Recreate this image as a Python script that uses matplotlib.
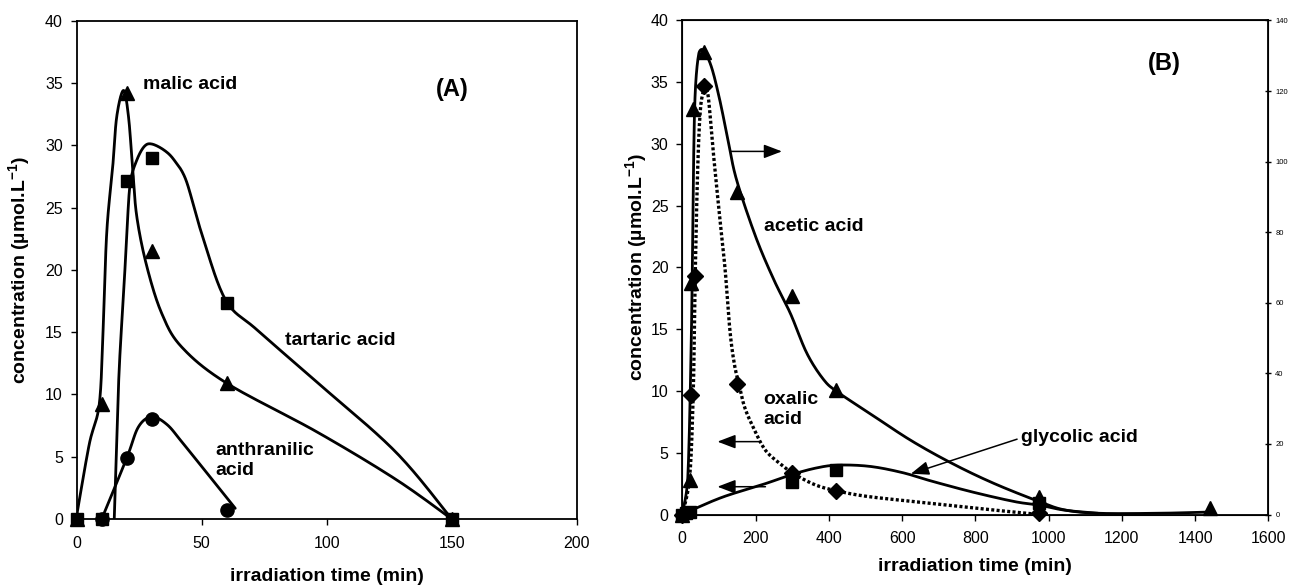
import numpy as np
import matplotlib
matplotlib.use('Agg')
import matplotlib.pyplot as plt
from matplotlib.patches import ArrowStyle

plt.rcParams['font.family'] = ['Liberation Sans', 'DejaVu Sans']
plt.rcParams['mathtext.fontset'] = 'custom'
plt.rcParams['mathtext.rm'] = 'Liberation Sans'
plt.rcParams['mathtext.bf'] = 'Liberation Sans:bold'

# ================= Panel A (measured points) =================
malic_t = [0, 10, 20, 30, 60, 150]
malic_c = [0, 9.2, 34.2, 21.5, 10.9, 0]
tartaric_t = [0, 10, 20, 30, 60, 150]
tartaric_c = [0, 0, 27.1, 29.0, 17.3, 0]
anthranilic_t = [10, 20, 30, 60]
anthranilic_c = [0, 4.9, 8.0, 0.7]

# Panel A fitted curves
malic_fit_t = [0, 5, 9, 10.5, 12, 14.4, 16, 18.7, 20.7, 22.3, 24, 28, 34, 42, 60, 96, 127.5, 150]
malic_fit_c = [0.3, 6, 9.2, 15, 23, 28.3, 32.3, 34.4, 32.3, 28.3, 24.3, 20.3, 16.5, 13.8, 10.9, 7.0, 3.2, 0]
tartaric_fit_t = [15, 16.8, 19, 20.3, 21.5, 24, 27, 30, 35, 39, 43.7, 50, 59.5, 72, 96, 127.5, 150]
tartaric_fit_c = [0, 11.2, 19, 24, 27.1, 28.8, 29.9, 30.1, 29.6, 28.8, 27.2, 22.9, 17.6, 15.2, 11.0, 5.4, 0]
anthranilic_fit_t = [10.4, 20, 24.7, 30, 36, 42, 63.4]
anthranilic_fit_c = [0.2, 4.9, 7.4, 8.2, 7.6, 6.2, 0.86]

xticks_A = [0, 50, 100, 150, 200]
yticks = [0, 5, 10, 15, 20, 25, 30, 35, 40]

# ================= Panel B (measured points) =================
acetic_t = [0, 20, 25, 30, 60, 150, 300, 420, 975, 1440]
acetic_c = [0, 9.8, 65.5, 114.8, 131, 91.4, 62, 35.4, 4.9, 1.8]      # right axis
oxalic_t = [0, 25, 35, 60, 150, 300, 420, 975]
oxalic_c = [0, 9.7, 19.3, 34.7, 10.6, 3.4, 1.9, 0.1]
glycolic_t = [0, 10, 20, 300, 420, 975]
glycolic_c = [0, 0.1, 0.2, 2.65, 3.6, 0.9]

# Panel B fitted curves
acetic_fit_t = [0, 15, 25, 30, 35, 45, 57, 79, 102, 125, 148, 200, 250, 295, 340, 386, 424,
                511, 624, 738, 851, 976, 1044, 1135, 1300, 1440]
acetic_fit_c = [0, 10.5, 52.5, 94.5, 119, 130.6, 131.6, 127, 117.6, 106, 94.9, 78.8, 66.5, 57,
                45.7, 38.2, 34.7, 28.7, 21, 14.4, 8.8, 3.6, 1.3, 0.35, 0.35, 0.7]   # right axis
oxalic_fit_t = [0, 20, 30, 35, 42, 50, 62, 71, 85, 103, 117, 130, 142, 155, 170, 193, 227,
                272, 304, 363, 424, 511, 681, 851, 975]
oxalic_fit_c = [0, 3, 10, 19, 28, 33, 34.6, 33.8, 29.2, 23.8, 19.8, 14.9, 12.2, 10.5, 8.7, 7.1,
                5.2, 4.0, 3.3, 2.4, 1.9, 1.44, 0.9, 0.36, 0]
glycolic_fit_t = [0, 25, 113, 227, 295, 363, 424, 511, 600, 681, 795, 908, 976, 1044, 1135]
glycolic_fit_c = [0, 0.35, 1.44, 2.5, 3.2, 3.75, 4.0, 3.9, 3.4, 2.7, 1.8, 1.04, 0.75, 0.35, 0.1]

xticks_B = [0, 200, 400, 600, 800, 1000, 1200, 1400, 1600]
yticks_right = [0, 20, 40, 60, 80, 100, 120, 140]

fig = plt.figure(figsize=(12.92, 5.87), dpi=100)
axA = fig.add_axes([0.0594, 0.1158, 0.387, 0.849])
axB = fig.add_axes([0.5281, 0.1235, 0.4536, 0.8416])
axB2 = axB.twinx()


def smooth(ax, x, y, n=20):
    """Catmull-Rom smoothing of a polyline, computed in display space."""
    x0, x1 = ax.get_xlim()
    y0, y1 = ax.get_ylim()
    bb = ax.get_position()
    W = bb.width * fig.get_figwidth()
    H = bb.height * fig.get_figheight()
    X = (np.asarray(x, float) - x0) / (x1 - x0) * W
    Y = (np.asarray(y, float) - y0) / (y1 - y0) * H
    P = np.column_stack([X, Y])
    Pe = np.vstack([P[0], P, P[-1]])
    t = np.linspace(0, 1, n)[1:, None]
    out = [P[:1]]
    for i in range(len(P) - 1):
        p0, p1, p2, p3 = Pe[i], Pe[i + 1], Pe[i + 2], Pe[i + 3]
        L = np.hypot(*(p2 - p1))
        h1 = (p2 - p0) / 6.0
        h2 = (p3 - p1) / 6.0
        n1, n2 = np.hypot(*h1), np.hypot(*h2)
        if n1 > L / 2 and n1 > 0:
            h1 = h1 * (L / 2) / n1
        if n2 > L / 2 and n2 > 0:
            h2 = h2 * (L / 2) / n2
        c1 = p1 + h1
        c2 = p2 - h2
        seg = (1 - t) ** 3 * p1 + 3 * (1 - t) ** 2 * t * c1 + 3 * (1 - t) * t ** 2 * c2 + t ** 3 * p2
        out.append(seg)
    Q = np.vstack(out)
    return Q[:, 0] / W * (x1 - x0) + x0, Q[:, 1] / H * (y1 - y0) + y0


def curve(ax, x, y, lw=2.0, dashes=None):
    sx, sy = smooth(ax, x, y)
    line, = ax.plot(sx, sy, color='black', lw=lw, solid_capstyle='round')
    if dashes is not None:
        line.set_dashes(dashes)


def points(ax, x, y, marker, ms):
    ax.plot(x, y, ls='none', marker=marker, ms=ms, color='black', clip_on=False, zorder=5)


def style_axis(ax, xticks, xlim):
    ax.set_xlim(*xlim)
    ax.set_ylim(0, 40)
    ax.set_xticks(xticks)
    ax.set_yticks(yticks)
    ax.tick_params(direction='out', length=4, width=1.0, labelsize=11.5, pad=6)
    ax.tick_params(axis='x', pad=8)
    for s in ax.spines.values():
        s.set_linewidth(1.3)


style_axis(axA, xticks_A, (0, 200))
style_axis(axB, xticks_B, (0, 1600))
axB2.set_ylim(0, 140)
axB2.set_yticks(yticks_right)
axB2.tick_params(direction='inout', length=4, width=1.0, labelsize=5.5, pad=3)
axA.tick_params(right=False, top=False)

# ---- Panel A ----
curve(axA, malic_fit_t, malic_fit_c)
curve(axA, tartaric_fit_t, tartaric_fit_c)
curve(axA, anthranilic_fit_t, anthranilic_fit_c)
points(axA, malic_t, malic_c, '^', 10)
points(axA, tartaric_t, tartaric_c, 's', 9)
points(axA, anthranilic_t, anthranilic_c, 'o', 9.5)

tk = dict(fontsize=14, fontweight='bold', va='center')
axA.text(26.7, 34.9, 'malic acid', ha='left', **tk)
axA.text(150.3, 34.5, '(A)', ha='center', fontsize=17, fontweight='bold', va='center')
axA.text(83.2, 14.3, 'tartaric acid', ha='left', **tk)
axA.text(55.5, 4.7, 'anthranilic\nacid', ha='left', linespacing=1.2, **tk)

# ---- Panel B ----
curve(axB2, acetic_fit_t, acetic_fit_c)
curve(axB, oxalic_fit_t, oxalic_fit_c, lw=2.4, dashes=(0.9, 0.7))
curve(axB, glycolic_fit_t, glycolic_fit_c)
points(axB2, acetic_t, acetic_c, '^', 10)
points(axB, oxalic_t, oxalic_c, 'D', 8)
points(axB, glycolic_t, glycolic_c, 's', 9)

axB.text(224, 23.3, 'acetic acid', ha='left', **tk)
axB.text(221, 8.5, 'oxalic\nacid', ha='left', linespacing=1.2, **tk)
axB.text(925, 6.25, 'glycolic acid', ha='left', **tk)
axB.text(1315, 36.5, '(B)', ha='center', fontsize=17, fontweight='bold', va='center')

astyle = ArrowStyle('-|>', head_length=1.1, head_width=0.42)
ap = dict(arrowstyle=astyle, mutation_scale=10, color='black', lw=1.1,
          shrinkA=0, shrinkB=0)
axB.annotate('', xy=(272, 29.4), xytext=(130, 29.4), arrowprops=ap)
axB.annotate('', xy=(96, 5.9), xytext=(210, 5.9), arrowprops=ap)
axB.annotate('', xy=(96, 2.25), xytext=(227, 2.25), arrowprops=ap)
axB.annotate('', xy=(624, 3.3), xytext=(914, 6.1), arrowprops=ap)

# ---- axis labels ----
ylab = 'concentration (µmol.L$^{\\mathbf{-1}}$)'
for ax, xl, yl in ((axA, -0.1158, -0.115), (axB, -0.1057, -0.077)):
    ax.set_xlabel('irradiation time (min)', fontsize=14, fontweight='bold')
    ax.set_ylabel(ylab, fontsize=14, fontweight='bold')
    ax.xaxis.set_label_coords(0.5, xl)
    ax.xaxis.label.set_va('center')
    ax.yaxis.set_label_coords(yl, 0.5)
    ax.yaxis.label.set_va('center')

fig.savefig('out.png', dpi=100)
